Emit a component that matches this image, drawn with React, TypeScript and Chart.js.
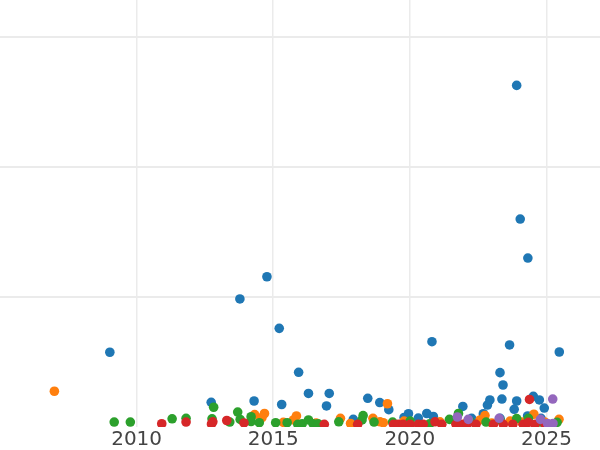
import React, { useEffect, useRef } from "react";
import { Chart, registerables } from "chart.js";

Chart.register(...registerables);

const xTicks = [2010, 2015, 2020, 2025];
const yTicks = [0, 1, 2, 3];

const blueX = [2009.02, 2013.78, 2014.77, 2015.22, 2015.93, 2012.73, 2014.30, 2015.31, 2016.29, 2017.05, 2016.95, 2017.93, 2018.46, 2018.90, 2019.23, 2019.79, 2019.95, 2020.31, 2020.62, 2020.86, 2020.81, 2021.94, 2022.26, 2022.69, 2022.84, 2022.93, 2023.30, 2023.41, 2023.37, 2023.30, 2023.65, 2023.82, 2023.91, 2023.91, 2024.04, 2024.32, 2024.31, 2024.52, 2024.74, 2024.80, 2024.92, 2025.47];
const blueY = [0.575, 0.985, 1.156, 0.759, 0.421, 0.19, 0.2, 0.173, 0.258, 0.258, 0.162, 0.059, 0.221, 0.188, 0.133, 0.073, 0.102, 0.069, 0.104, 0.081, 0.656, 0.158, 0.067, 0.102, 0.169, 0.208, 0.418, 0.323, 0.215, 0.067, 0.631, 0.136, 0.2, 2.628, 1.6, 1.3, 0.085, 0.236, 0.208, 0.067, 0.146, 0.577];

const orangeX = [2006.99, 2014.32, 2014.68, 2014.59, 2015.37, 2015.74, 2015.85, 2016.57, 2017.46, 2017.83, 2018.65, 2018.91, 2019.18, 2019.03, 2019.79, 2021.10, 2021.65, 2022.09, 2022.57, 2022.75, 2023.0, 2023.67, 2024.1, 2024.54, 2024.94, 2025.46];
const orangeY = [0.275, 0.096, 0.104, 0.073, 0.036, 0.054, 0.085, 0.031, 0.067, 0.027, 0.067, 0.04, 0.179, 0.033, 0.046, 0.04, 0.046, 0.038, 0.054, 0.088, 0.03, 0.046, 0.038, 0.098, 0.038, 0.059];

const greenX = [2009.18, 2009.77, 2011.30, 2011.81, 2012.76, 2012.82, 2013.41, 2013.70, 2013.79, 2014.19, 2014.19, 2014.49, 2015.09, 2015.51, 2015.90, 2016.06, 2016.29, 2016.46, 2016.64, 2017.40, 2018.25, 2018.29, 2018.69, 2019.37, 2020.01, 2020.73, 2021.45, 2021.78, 2022.20, 2022.79, 2023.30, 2023.91, 2024.34, 2024.77, 2025.39];
const greenY = [0.038, 0.038, 0.063, 0.067, 0.063, 0.152, 0.038, 0.115, 0.058, 0.079, 0.042, 0.033, 0.033, 0.033, 0.021, 0.025, 0.054, 0.025, 0.025, 0.04, 0.054, 0.088, 0.038, 0.038, 0.046, 0.025, 0.059, 0.104, 0.046, 0.038, 0.054, 0.065, 0.067, 0.038, 0.036];

const redX = [2010.92, 2011.81, 2012.74, 2012.79, 2013.30, 2013.93, 2016.87, 2018.09, 2019.40, 2019.57, 2019.76, 2020.01, 2020.31, 2020.49, 2020.92, 2021.17, 2021.69, 2021.90, 2022.10, 2022.42, 2023.06, 2023.42, 2023.77, 2024.15, 2024.34, 2024.38, 2024.58, 2024.95];
const redY = [0.025, 0.038, 0.023, 0.04, 0.05, 0.031, 0.021, 0.021, 0.021, 0.021, 0.021, 0.021, 0.021, 0.021, 0.04, 0.021, 0.021, 0.021, 0.021, 0.021, 0.021, 0.021, 0.021, 0.021, 0.036, 0.212, 0.021, 0.021];

const purpleX = [2021.74, 2022.14, 2023.27, 2024.78, 2025.04, 2025.24, 2025.23];
const purpleY = [0.077, 0.059, 0.067, 0.059, 0.027, 0.027, 0.215];

const series = [
  { name: "blue", xs: blueX, ys: blueY, color: "#1f77b4", order: 5 },
  { name: "orange", xs: orangeX, ys: orangeY, color: "#ff7f0e", order: 4 },
  { name: "green", xs: greenX, ys: greenY, color: "#2ca02c", order: 3 },
  { name: "red", xs: redX, ys: redY, color: "#d62728", order: 2 },
  { name: "purple", xs: purpleX, ys: purpleY, color: "#9467bd", order: 1 },
];

export default function App() {
  const ref = useRef<HTMLCanvasElement | null>(null);
  useEffect(() => {
    document.body.style.margin = "0";
    const canvas = ref.current;
    if (!canvas) return;
    const chart = new Chart(canvas, {
      type: "scatter",
      data: {
        datasets: series.map((s) => ({
          label: s.name,
          data: s.xs.map((x, i) => ({ x, y: s.ys[i] })),
          backgroundColor: s.color,
          borderColor: s.color,
          borderWidth: 0,
          pointRadius: 4.8,
          order: s.order,
          clip: 0,
        })),
      },
      options: {
        animation: false,
        responsive: false,
        events: [],
        layout: { padding: { left: 0, right: 0, top: 0, bottom: -2 }, autoPadding: false },
        plugins: { legend: { display: false }, tooltip: { enabled: false } },
        scales: {
          x: {
            type: "linear",
            min: 2005,
            max: 2026.96,
            afterBuildTicks: (scale: any) => {
              scale.ticks = xTicks.map((v) => ({ value: v }));
            },
            grid: { color: "#ebebeb", lineWidth: 1.5, drawTicks: false },
            border: { display: false },
            ticks: {
              padding: 0,
              color: "#444",
              font: { family: "DejaVu Sans", size: 20, lineHeight: 1.25 },
              callback: (v: any) => String(v),
            },
          },
          y: {
            type: "linear",
            min: 0,
            max: 3.285,
            afterBuildTicks: (scale: any) => {
              scale.ticks = yTicks.map((v) => ({ value: v }));
            },
            grid: {
              color: (ctx: any) => (ctx.tick && ctx.tick.value === 0 ? "rgba(0,0,0,0)" : "#ebebeb"),
              lineWidth: 2,
              drawTicks: false,
            },
            border: { display: false },
            ticks: { display: false },
          },
        },
      },
    });
    return () => chart.destroy();
  }, []);
  return (
    <div style={{ position: "fixed", left: 0, top: 0, width: 600, height: 450 }}>
      <canvas ref={ref} width={600} height={450} />
    </div>
  );
}
